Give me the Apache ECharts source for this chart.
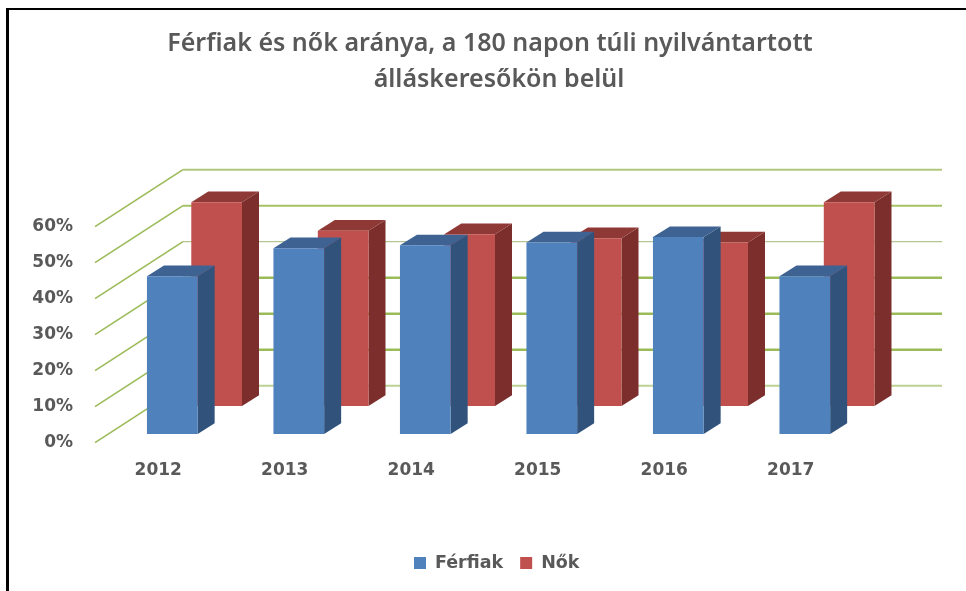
<!DOCTYPE html>
<html><head><meta charset="utf-8">
<style>html,body{margin:0;padding:0;background:#fff}#c{width:966px;height:591px}</style>
<script src="https://cdn.jsdelivr.net/npm/echarts@6/dist/echarts.min.js"></script>
</head><body><div id="c"></div>
<script>
const titleLine1 = 'Férfiak és nők aránya, a 180 napon túli nyilvántartott';
const titleLine2 = 'álláskeresőkön belül';
const years = ['2012','2013','2014','2015','2016','2017'];
const ferfiak = [43.8,51.6,52.4,53.2,54.7,43.8];
const nok = [56.6,48.7,47.7,46.6,45.4,56.6];
const wallTicks = [0,10,20,30,40,50,60];

const TXT = '#595959', FONT = '"DejaVu Sans"';
const WALL = {dx:88, dy:-57};
const BAR = {w:50.7, dx:17, dy:-10.7};
const wallStyle = {
  0:{w:2,c:'#bdd195'},10:{w:2.5,c:'#9bbb59'},20:{w:2.5,c:'#9bbb59'},30:{w:2.5,c:'#9bbb59'},
  40:{w:1,c:'#a3b87a'},50:{w:2,c:'#a5c266'},60:{w:2,c:'#b0c87e'}
};

function walls(params, api){
  const v = api.value(0), cs = params.coordSys, y = api.coord([0,v])[1];
  const x0 = cs.x, x1 = x0+WALL.dx, y1 = y+WALL.dy, s = wallStyle[v];
  return {type:'group',children:[
    {type:'line',shape:{x1:x0,y1:y,x2:x1,y2:y1},style:{stroke:'#9bbb59',lineWidth:1.6}},
    {type:'line',shape:{x1:x1,y1:y1,x2:x1+cs.width,y2:y1},style:{stroke:s.c,lineWidth:s.w}}
  ]};
}
function bars(offX, offY, front, side, top){
  return function(params, api){
    const i = api.value(0), v = api.value(1);
    const t = api.coord([i,v]), b = api.coord([i,0]);
    const l = t[0]+offX-BAR.w/2, r = l+BAR.w, yt = t[1]+offY, yb = b[1]+offY;
    const d = BAR.dx, e = BAR.dy;
    return {type:'group',children:[
      {type:'polygon',shape:{points:[[r,yt],[r+d,yt+e],[r+d,yb+e],[r,yb]]},style:{fill:side}},
      {type:'polygon',shape:{points:[[l,yt],[l+d,yt+e],[r+d,yt+e],[r,yt]]},style:{fill:top}},
      {type:'rect',shape:{x:l,y:yt,width:BAR.w,height:yb-yt},style:{fill:front}}
    ]};
  };
}
const labelFont = {color:TXT,fontFamily:FONT,fontWeight:'bold',fontSize:17};
const titleFont = {color:TXT,fontFamily:'"Noto Sans"',fontWeight:600,fontSize:25};
const chart = echarts.init(document.getElementById('c'),null,{renderer:'canvas'});
chart.setOption({
  animation:false,
  backgroundColor:'#fff',
  title:[
    {text:titleLine1,left:485,top:26,textAlign:'center',textStyle:titleFont},
    {text:titleLine2,left:494,top:62,textAlign:'center',textStyle:titleFont}
  ],
  legend:{data:['Férfiak','Nők'],left:409,top:549,icon:'rect',itemWidth:12,itemHeight:12,itemGap:17,
    textStyle:Object.assign({},labelFont,{fontSize:17.5,padding:[0,0,0,4]})},
  grid:{left:95,top:226.7,width:759,height:216,containLabel:false},
  xAxis:{type:'category',data:years,axisLine:{show:false},axisTick:{show:false},
    axisLabel:Object.assign({margin:19},labelFont)},
  yAxis:{type:'value',min:0,max:60,interval:10,axisLine:{show:false},axisTick:{show:false},splitLine:{show:false},
    axisLabel:Object.assign({margin:22,formatter:'{value}%',padding:[5,0,0,0]},labelFont)},
  graphic:[
    {type:'rect',shape:{x:6,y:8,width:960,height:2},style:{fill:'#000'}},
    {type:'rect',shape:{x:6,y:8,width:3,height:583},style:{fill:'#000'}}
  ],
  series:[
    {name:'Fal',type:'custom',clip:false,data:wallTicks.map(v=>[v]),encode:{y:0},renderItem:walls,z:1,silent:true},
    {name:'Nők',type:'custom',clip:false,itemStyle:{color:'#c0504d'},z:2,encode:{x:0,y:1},
      data:nok.map((v,i)=>[i,v]),renderItem:bars(58.4,-36.7,'#c0504d','#7b2e2c','#8f3937')},
    {name:'Férfiak',type:'custom',clip:false,itemStyle:{color:'#4f81bd'},z:3,encode:{x:0,y:1},
      data:ferfiak.map((v,i)=>[i,v]),renderItem:bars(14.05,-8.7,'#4f81bd','#31527b','#3e6393')}
  ]
});
</script></body></html>
